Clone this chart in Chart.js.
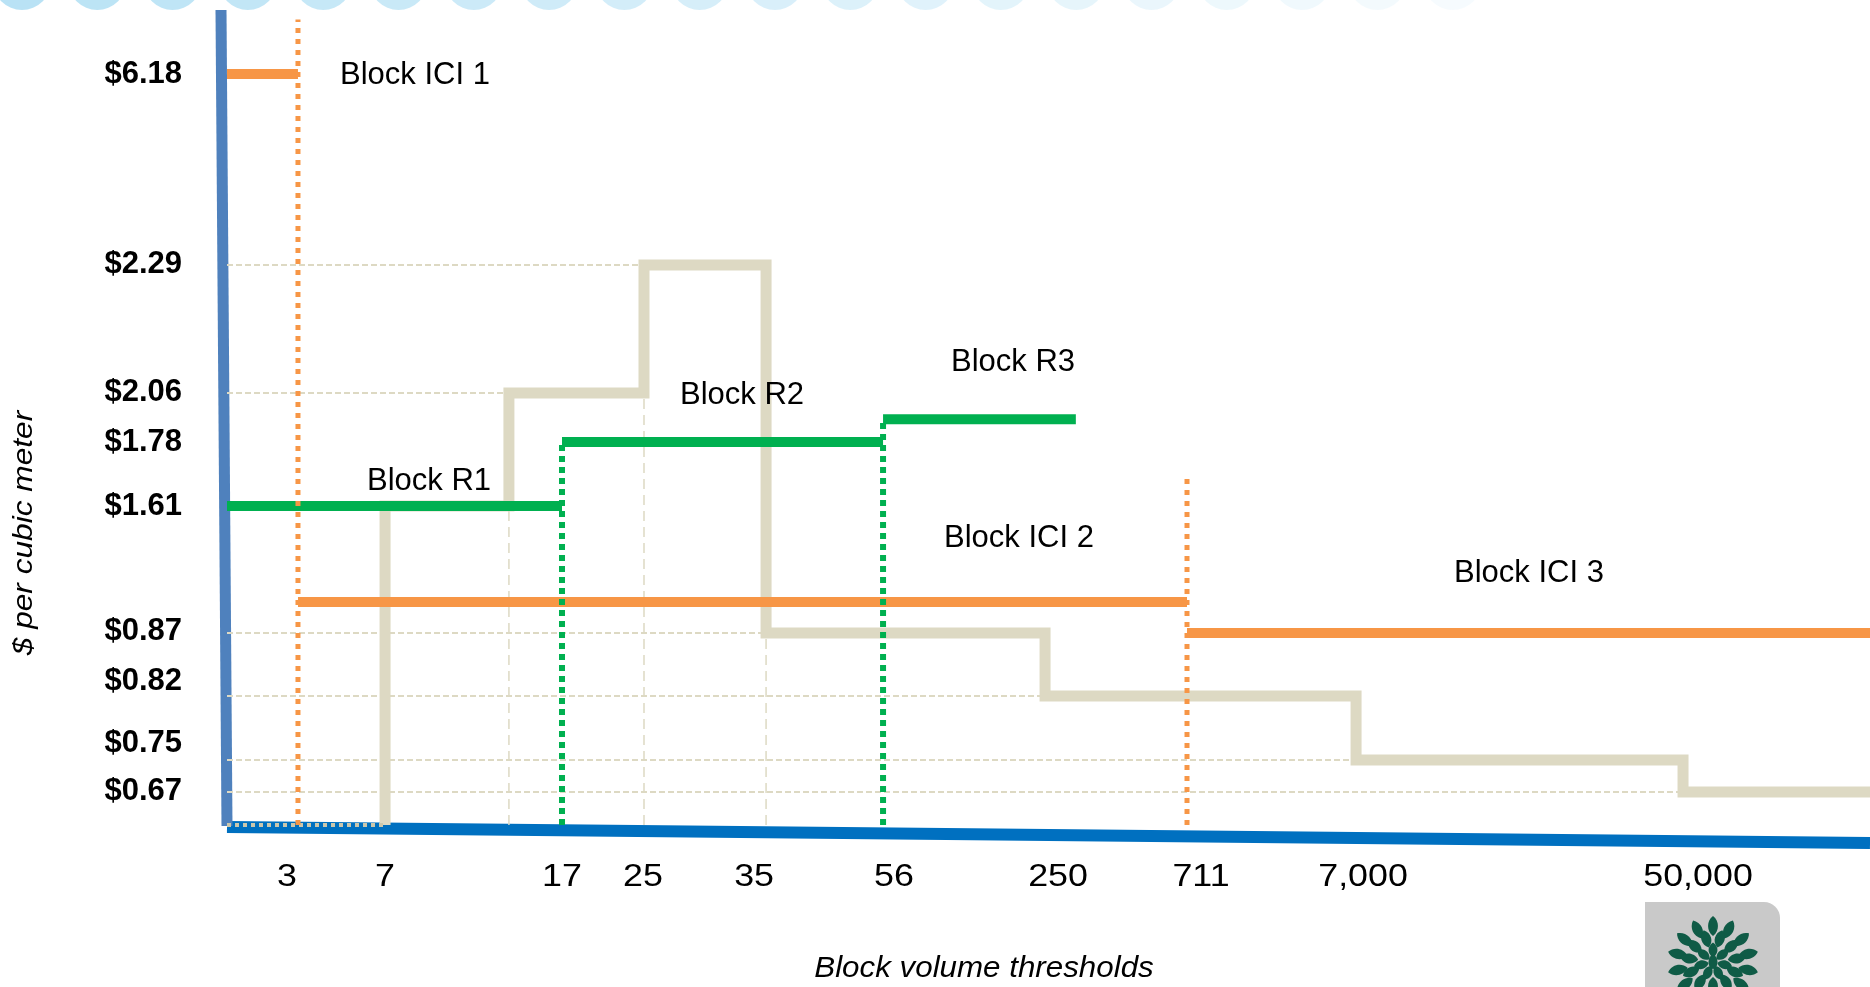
<!DOCTYPE html>
<html>
<head>
<meta charset="utf-8">
<title>Block volume thresholds</title>
<script src="https://cdn.jsdelivr.net/npm/chart.js@4.4.1/dist/chart.umd.min.js"></script>
<style>
  html, body { margin: 0; padding: 0; background: #fff; }
  canvas { display: block; }
</style>
</head>
<body>
<canvas id="chart" width="1870" height="987"></canvas>
<script>
// Volume thresholds (cubic meters) and the labels printed under them
const volumeTicks = [3, 7, 17, 25, 35, 56, 250, 711, 7000, 50000];
const volumeLabels = ['3', '7', '17', '25', '35', '56', '250', '711', '7,000', '50,000'];
const volumeMax = 100000;

// Prices marked on the price axis
const priceTicks = [0.67, 0.75, 0.82, 0.87, 1.61, 1.78, 2.06, 2.29, 6.18];
const priceLabels = ['$0.67', '$0.75', '$0.82', '$0.87', '$1.61', '$1.78', '$2.06', '$2.29', '$6.18'];
const priceMax = 7;

// Residential blocks
const resNames = ['Block R1', 'Block R2', 'Block R3'];
const resFrom = [0, 17, 56];
const resTo = [17, 56, 350];
const resPrice = [1.61, 1.78, 1.91];

// ICI blocks
const iciNames = ['Block ICI 1', 'Block ICI 2', 'Block ICI 3'];
const iciFrom = [0, 3, 711];
const iciTo = [3, 711, 100000];
const iciPrice = [6.18, 1.05, 0.87];
// dotted ICI block boundaries and the price they reach up to
const iciBreaks = [3, 711];
const iciBreakTop = [6.9, 1.69];

// Combined declining-block schedule: price from each volume onward
const stepFrom = [7, 14, 25, 35, 250, 7000, 50000];
const stepPrice = [1.61, 2.06, 2.29, 0.87, 0.82, 0.75, 0.67];
// steps that get a dashed drop line down to the volume axis
const stepDrops = [14, 25, 35];

const GREEN = '#00B050';
const ORANGE = '#F79646';
const TAN = '#DDD9C3';
const FONT = "'Liberation Sans', Arial, Helvetica, sans-serif";

// Piecewise-linear axis: each stop value sits at a fixed fraction of the axis length
class BreakScale extends Chart.LinearScale {
  static id = 'breaks';

  buildTicks() {
    return this.options.tickValues.map(value => ({ value }));
  }
  _fraction(v) {
    const vals = this.options.stopValues, at = this.options.stopAt;
    if (v <= vals[0]) return at[0];
    for (let i = 1; i < vals.length; i++) {
      if (v <= vals[i]) {
        return at[i - 1] + (v - vals[i - 1]) / (vals[i] - vals[i - 1]) * (at[i] - at[i - 1]);
      }
    }
    const n = vals.length - 1;
    return at[n] + (v - vals[n]) / (vals[n] - vals[n - 1]) * (at[n] - at[n - 1]);
  }
  getPixelForValue(value) {
    const f = this._fraction(value);
    return this.isHorizontal() ? this.left + f * this.width : this.bottom - f * this.height;
  }
  getValueForPixel(pixel) {
    const f = this.isHorizontal() ? (pixel - this.left) / this.width : (this.bottom - pixel) / this.height;
    const vals = this.options.stopValues, at = this.options.stopAt;
    for (let i = 1; i < vals.length; i++) {
      if (f <= at[i]) {
        return vals[i - 1] + (f - at[i - 1]) / (at[i] - at[i - 1]) * (vals[i] - vals[i - 1]);
      }
    }
    return vals[vals.length - 1];
  }
  getPixelForTick(index) {
    const t = this.ticks[index];
    return t ? this.getPixelForValue(t.value) : null;
  }
  // per-label nudges so each label sits where it was placed on the slide
  _computeLabelItems(chartArea) {
    const items = super._computeLabelItems(chartArea);
    const shift = this.options.labelShift || [];
    const along = this.isHorizontal() ? 0 : 1;
    items.forEach(item => {
      const idx = this.ticks.findIndex(t => t.label === item.label);
      if (idx >= 0 && shift[idx]) item.options.translation[along] += shift[idx];
    });
    return items;
  }
  // labels may be drawn horizontally stretched
  drawLabels(chartArea) {
    if (!this.options.ticks.display) return;
    const sx = this.options.textStretch || 1;
    const ctx = this.ctx;
    for (const item of this.getLabelItems(chartArea)) {
      const o = item.options;
      ctx.save();
      ctx.font = item.font.string;
      ctx.fillStyle = o.color;
      ctx.textAlign = o.textAlign;
      ctx.textBaseline = o.textBaseline;
      ctx.translate(o.translation[0], o.translation[1]);
      ctx.rotate(o.rotation || 0);
      ctx.scale(sx, 1);
      ctx.fillText(item.label, 0, item.textOffset);
      ctx.restore();
    }
  }
}
Chart.register(BreakScale);

// ---- datasets ----
const datasets = [];
const seg = (x0, x1, y0, y1) => [{ x: x0, y: y0 }, { x: x1, y: y1 }];
function addLine(data, style) {
  datasets.push(Object.assign({
    data, pointRadius: 0, pointHoverRadius: 0, fill: false, clip: false,
    borderCapStyle: 'butt', borderJoinStyle: 'miter', tension: 0
  }, style));
}

// dashed guides from each step of the schedule back to the price axis
stepFrom.forEach((x, i) => {
  addLine(seg(0, x, stepPrice[i], stepPrice[i]),
    { borderColor: TAN, borderWidth: 2, borderDash: [6, 3], order: 9 });
});
// dashed drops from selected steps down to the volume axis
stepDrops.forEach(x => {
  const i = stepFrom.indexOf(x);
  const top = Math.min(stepPrice[i - 1], stepPrice[i]);
  addLine(seg(x, x, 0, top),
    { borderColor: TAN, borderWidth: 1.5, borderDash: [10, 6], order: 9 });
});

// the combined schedule as a thick step line
const stepData = [{ x: stepFrom[0], y: 0 }]
  .concat(stepFrom.map((x, i) => ({ x, y: stepPrice[i] })))
  .concat([{ x: volumeMax, y: stepPrice[stepPrice.length - 1] }]);
addLine(stepData, { borderColor: TAN, borderWidth: 11, stepped: true, order: 8 });
// zero-price stretch before the first step, dotted
addLine(seg(0, stepFrom[0], 0, 0),
  { borderColor: '#CCC7AC', borderWidth: 4, borderDash: [4, 4], order: 7 });

// ICI blocks
iciFrom.forEach((x, i) => {
  addLine(seg(x, iciTo[i], iciPrice[i], iciPrice[i]),
    { label: iciNames[i], borderColor: ORANGE, borderWidth: 10, order: 5 });
});
// residential blocks
resFrom.forEach((x, i) => {
  addLine(seg(x, resTo[i], resPrice[i], resPrice[i]),
    { label: resNames[i], borderColor: GREEN, borderWidth: 10, order: 4 });
});
// dotted block boundaries
iciBreaks.forEach((x, i) => {
  addLine(seg(x, x, 0, iciBreakTop[i]),
    { borderColor: ORANGE, borderWidth: 5, borderDash: [5, 6], order: 2 });
});
resFrom.slice(1).forEach((x, k) => {
  addLine(seg(x, x, 0, resPrice[k + 1]),
    { borderColor: GREEN, borderWidth: 6, borderDash: [6, 5], order: 1 });
});

// ---- plugins ----
// pale bubble strip along the top edge and the logo tile in the corner
const slideDecor = {
  id: 'slideDecor',
  beforeDraw(chart, args, o) {
    const ctx = chart.ctx;
    ctx.save();
    ctx.fillStyle = '#ffffff';
    ctx.fillRect(0, 0, chart.width, chart.height);
    for (let i = 0; i < o.bubbles; i++) {
      const a = 0.62 * (1 - i / o.bubbles) + 0.05;
      ctx.fillStyle = `rgba(150, 212, 240, ${a.toFixed(3)})`;
      ctx.beginPath();
      ctx.arc(o.bubbleX + i * o.bubbleGap, o.bubbleY, o.bubbleR, 0, Math.PI * 2);
      ctx.fill();
    }
    ctx.restore();
  },
  afterDraw(chart, args, o) {
    const ctx = chart.ctx;
    const { x, y, w, h, r, cx, cy } = o.logo;
    ctx.save();
    ctx.fillStyle = '#C9C9C9';
    ctx.beginPath();
    ctx.moveTo(x, y);
    ctx.lineTo(x + w - r, y);
    ctx.arcTo(x + w, y, x + w, y + r, r);
    ctx.lineTo(x + w, y + h);
    ctx.lineTo(x, y + h);
    ctx.closePath();
    ctx.fill();
    // leaf rosette: rings of almond-shaped leaves pointing outward
    ctx.fillStyle = '#0F5B46';
    const rings = [[36, 14, 20, 10], [24, 11, 18, 10], [12, 7, 15, 9]];
    rings.forEach(([rad, n, len, wid], k) => {
      for (let j = 0; j < n; j++) {
        const ang = -Math.PI / 2 + (j + (k % 2) * 0.5) * 2 * Math.PI / n;
        ctx.save();
        ctx.translate(cx + rad * Math.cos(ang), cy + rad * Math.sin(ang));
        ctx.rotate(ang + Math.PI / 2);
        ctx.beginPath();
        ctx.moveTo(0, -len / 2);
        ctx.bezierCurveTo(wid * 0.66, -len / 4, wid * 0.66, len / 4, 0, len / 2);
        ctx.bezierCurveTo(-wid * 0.66, len / 4, -wid * 0.66, -len / 4, 0, -len / 2);
        ctx.fill();
        ctx.restore();
      }
    });
    ctx.beginPath();
    ctx.ellipse(cx, cy, 4.5, 7, 0, 0, Math.PI * 2);
    ctx.fill();
    ctx.restore();
  }
};

// hand-drawn axes, each leaning a little
const axisLines = {
  id: 'axisLines',
  beforeDatasetsDraw(chart, args, o) {
    const { ctx, chartArea: a } = chart;
    ctx.save();
    ctx.lineCap = 'butt';
    ctx.strokeStyle = o.xColor;
    ctx.lineWidth = o.xWidth;
    ctx.beginPath();
    ctx.moveTo(a.left, a.bottom + o.xWidth / 2 - 4);
    ctx.lineTo(a.right, a.bottom + o.xWidth / 2 - 4 + o.xDrop);
    ctx.stroke();
    ctx.strokeStyle = o.yColor;
    ctx.lineWidth = o.yWidth;
    ctx.beginPath();
    ctx.moveTo(a.left - o.yLean, a.top - 2);
    ctx.lineTo(a.left, a.bottom + 1);
    ctx.stroke();
    ctx.restore();
  }
};

// block names written next to their blocks
const blockLabels = {
  id: 'blockLabels',
  afterDatasetsDraw(chart, args, o) {
    const ctx = chart.ctx;
    ctx.save();
    ctx.font = `${o.size}px ${FONT}`;
    ctx.fillStyle = '#000';
    ctx.textAlign = 'left';
    ctx.textBaseline = 'middle';
    o.items.forEach(t => ctx.fillText(t.text, t.x, t.y));
    ctx.restore();
  }
};

// axis captions, set in a slightly widened italic
const axisCaptions = {
  id: 'axisCaptions',
  afterDraw(chart, args, o) {
    const ctx = chart.ctx;
    o.items.forEach(t => {
      ctx.save();
      ctx.font = t.font;
      ctx.fillStyle = '#000';
      ctx.textAlign = 'center';
      ctx.textBaseline = 'alphabetic';
      ctx.translate(t.x, t.y);
      ctx.rotate(t.rotate || 0);
      ctx.scale(t.stretch || 1, 1);
      ctx.fillText(t.text, 0, 0);
      ctx.restore();
    });
  }
};

new Chart(document.getElementById('chart'), {
  type: 'line',
  data: { datasets },
  plugins: [slideDecor, axisLines, blockLabels, axisCaptions],
  options: {
    responsive: false,
    animation: false,
    events: [],
    layout: { padding: { top: 12, left: 0, right: 0, bottom: 0 } },
    scales: {
      x: {
        type: 'breaks',
        position: 'bottom',
        min: 0,
        max: volumeMax,
        tickValues: volumeTicks,
        stopValues: [0, ...volumeTicks, volumeMax],
        stopAt: [0, 0.0432, 0.0962, 0.2039, 0.2538, 0.3281, 0.3993, 0.4979, 0.5843, 0.6872, 0.8862, 1],
        labelShift: [-11, 0, 0, -1, -12, 11, 13, 14, 7, 15],
        textStretch: 1.12,
        grid: { display: false, drawTicks: false },
        border: { display: false },
        ticks: {
          autoSkip: false, maxRotation: 0, minRotation: 0,
          padding: 33,
          color: '#000',
          font: { family: FONT, size: 32 },
          callback: (v, i) => volumeLabels[i]
        },
        afterFit(scale) {
          scale.height = 162;
          scale.paddingLeft = 0;
          scale.paddingRight = 0;
        }
      },
      y: {
        type: 'breaks',
        position: 'left',
        min: 0,
        max: priceMax,
        tickValues: priceTicks,
        stopValues: [0, ...priceTicks, priceMax],
        stopAt: [0, 0.0406, 0.0800, 0.1587, 0.2362, 0.3924, 0.4711, 0.5314, 0.6888, 0.9237, 1],
        labelShift: [-1, -17, -15, -2, 0, 0, -1, -1, 0],
        grid: { display: false, drawTicks: false },
        border: { display: false },
        ticks: {
          autoSkip: false,
          padding: 45,
          color: '#000',
          font: { family: FONT, size: 31, weight: 'bold' },
          callback: (v, i) => priceLabels[i]
        },
        afterFit(scale) {
          scale.width = 227;
          scale.paddingTop = 0;
          scale.paddingBottom = 0;
        }
      }
    },
    plugins: {
      legend: { display: false },
      tooltip: { enabled: false },
      slideDecor: {
        bubbles: 20, bubbleX: 22, bubbleGap: 75.3, bubbleY: -19, bubbleR: 29,
        logo: { x: 1645, y: 902, w: 135, h: 95, r: 16, cx: 1713, cy: 962 }
      },
      axisLines: { xColor: '#0070C0', xWidth: 12, xDrop: 16, yColor: '#4F81BD', yWidth: 11, yLean: 6 },
      blockLabels: {
        size: 31,
        items: [
          { text: iciNames[0], x: 340, y: 75 },
          { text: resNames[0], x: 367, y: 481 },
          { text: resNames[1], x: 680, y: 395 },
          { text: resNames[2], x: 951, y: 362 },
          { text: iciNames[1], x: 944, y: 538 },
          { text: iciNames[2], x: 1454, y: 573 }
        ]
      },
      axisCaptions: {
        items: [
          { text: 'Block volume thresholds', font: `italic 29px ${FONT}`, stretch: 1.08, x: 984, y: 977 },
          { text: '$ per cubic meter', font: `italic 28px ${FONT}`, stretch: 1.13, x: 32, y: 533, rotate: -Math.PI / 2 }
        ]
      }
    }
  }
});
</script>
</body>
</html>
